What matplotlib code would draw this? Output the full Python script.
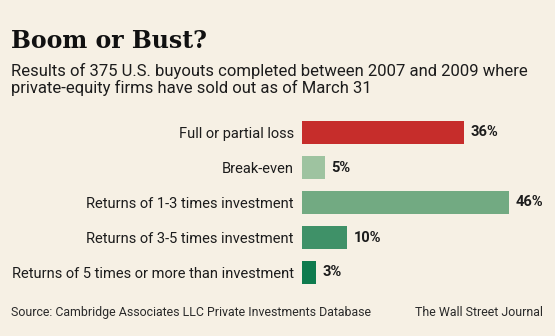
import matplotlib
matplotlib.use("Agg")
import matplotlib.pyplot as plt
import matplotlib.transforms as mtransforms

W, H = 555, 336
BG = "#f6f0e4"
INK = "#1c1c1c"

categories = [
    "Full or partial loss",
    "Break-even",
    "Returns of 1-3 times investment",
    "Returns of 3-5 times investment",
    "Returns of 5 times or more than investment",
]
shares = [36, 5, 46, 10, 3]
bar_colors = ["#c62d2b", "#9ec3a0", "#72aa82", "#3f9168", "#0e7b4e"]

title = "Boom or Bust?"
subtitle = ["Results of 375 U.S. buyouts completed between 2007 and 2009 where",
            "private-equity firms have sold out as of March 31"]
source = "Source: Cambridge Associates LLC Private Investments Database"
credit = "The Wall Street Journal"

plt.rcParams["font.family"] = ["Roboto", "DejaVu Sans"]

fig = plt.figure(figsize=(W / 100, H / 100), dpi=100, facecolor=BG)


def fx(px):
    return px / W


def fy(py):
    return 1 - py / H


# bar area: 4.5 px per percent, rows 35 px apart
x0, x1 = 302, 302 + 4.5 * 50
y0, y1 = 115, 115 + 35 * len(categories)
ax = fig.add_axes([fx(x0), fy(y1), fx(x1 - x0), (y1 - y0) / H])
ax.set_facecolor(BG)
ypos = list(range(len(categories)))
ax.barh(ypos, shares, height=0.68, color=bar_colors, edgecolor="none")
ax.set_xlim(0, 50)
ax.set_ylim(len(categories) - 0.5, -0.5)
ax.set_yticks(ypos)
ax.set_yticklabels(categories, fontsize=10.5, color=INK)
ax.tick_params(axis="y", length=0, pad=6)
ax.set_xticks([])
for s in ax.spines.values():
    s.set_visible(False)

offset = mtransforms.offset_copy(ax.transData, fig=fig, x=5, y=0, units="points")
for i, v in enumerate(shares):
    ax.text(v, i, f"{v}%", transform=offset, ha="left", va="center",
            fontsize=10.5, fontweight="bold", color=INK)

fig.text(fx(11), fy(48), title, fontsize=17, fontweight="bold",
         family=["DejaVu Serif"], color="#111111",
         va="baseline", ha="left")
fig.text(fx(11), fy(76), subtitle[0], fontsize=12, color=INK,
         va="baseline", ha="left")
fig.text(fx(11), fy(93), subtitle[1], fontsize=12, color=INK,
         va="baseline", ha="left")
fig.text(fx(11), fy(316), source, fontsize=8.9, color="#2a2a2a",
         va="baseline", ha="left")
fig.text(fx(543), fy(316), credit, fontsize=8.9, color="#2a2a2a",
         va="baseline", ha="right")

fig.savefig("out.png", dpi=100, facecolor=BG)
